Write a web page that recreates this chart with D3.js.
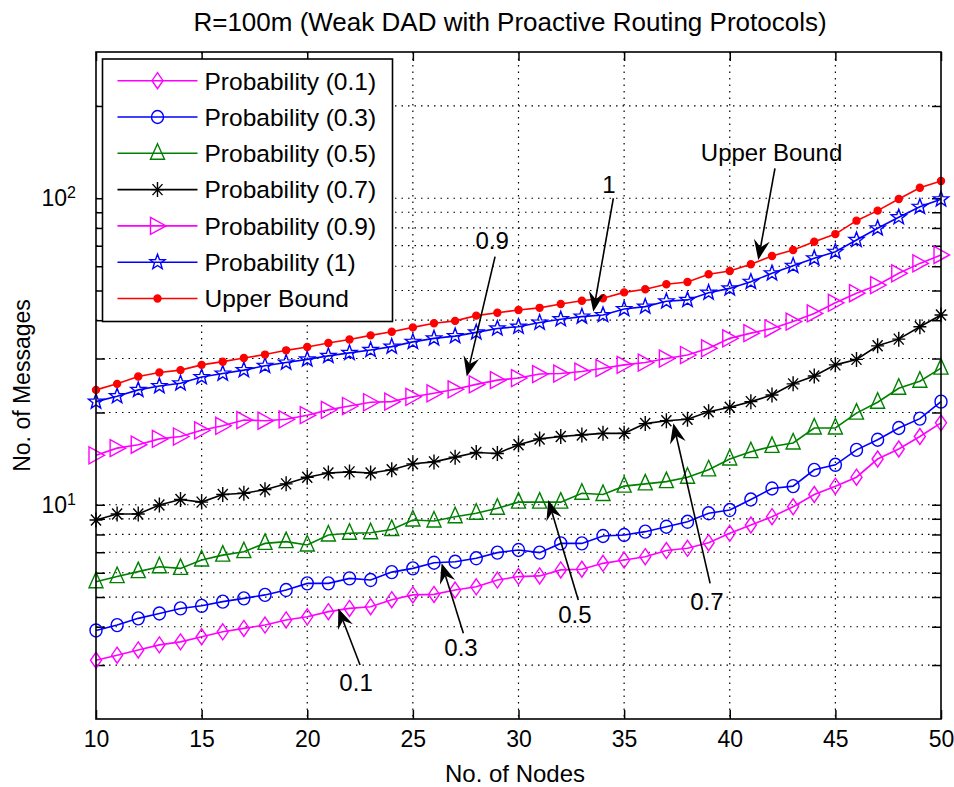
<!DOCTYPE html>
<html lang="en">
<head>
<meta charset="utf-8">
<title>R=100m (Weak DAD with Proactive Routing Protocols)</title>
<script src="https://cdn.jsdelivr.net/npm/d3@7"></script>
<style>
  body { margin: 0; background: #fff; }
  svg { display: block; font-family: "Liberation Sans", Arial, sans-serif; }
  .grid line { stroke: #000; stroke-width: 1.2; stroke-dasharray: 1.5,5; }
  .axis path { display: none; }
  .axis line { stroke: #000; stroke-width: 1.5; }
  .axis text { fill: #000; font-size: 23px; font-family: "Liberation Sans", Arial, sans-serif; }
</style>
</head>
<body>
<script>
var w = 954, h = 787;
var plot = {left: 96, right: 941, top: 52, bottom: 719};

// number of nodes on the x axis
var nodes = [10, 11, 12, 13, 14, 15, 16, 17, 18, 19, 20, 21, 22, 23, 24, 25, 26, 27, 28, 29, 30,
             31, 32, 33, 34, 35, 36, 37, 38, 39, 40, 41, 42, 43, 44, 45, 46, 47, 48, 49, 50];

// number of messages, one list per curve
var p01 = [3.11, 3.23, 3.36, 3.49, 3.57, 3.71, 3.85, 3.95, 4.05, 4.21, 4.31, 4.48, 4.59, 4.65, 4.90,
           5.08, 5.10, 5.27, 5.40, 5.68, 5.83, 5.86, 6.13, 6.16, 6.44, 6.60, 6.77, 7.09,
           7.21, 7.52, 8.07, 8.59, 9.14, 9.85, 10.8, 11.5, 12.3, 14.1, 15.2, 16.7, 18.5];
var p03 = [3.89, 4.05, 4.26, 4.42, 4.59, 4.68, 4.83, 4.95, 5.08, 5.27, 5.54, 5.54, 5.75, 5.68, 6.03,
           6.20, 6.47, 6.52, 6.69, 6.98, 7.12, 6.98, 7.48, 7.48, 7.91, 7.97, 8.17, 8.48,
           8.80, 9.38, 9.61, 10.4, 11.3, 11.5, 13.0, 13.5, 15.1, 16.3, 17.8, 19.1, 21.7];
var p05 = [5.61, 5.83, 6.05, 6.28, 6.20, 6.60, 6.85, 7.03, 7.48, 7.58, 7.39, 7.97, 8.07, 8.10, 8.30,
           8.92, 8.85, 9.14, 9.38, 9.74, 10.2, 10.2, 10.2, 10.9, 10.8, 11.5, 11.7, 11.9,
           12.3, 13.0, 14.1, 14.9, 15.5, 15.9, 17.8, 17.8, 19.9, 21.6, 24.0, 25.3, 27.9];
var p07 = [8.92, 9.33, 9.33, 9.98, 10.4, 10.2, 10.8, 10.9, 11.2, 11.7, 12.3, 12.7, 12.8, 12.7, 13.0,
           13.6, 13.8, 14.3, 14.8, 14.7, 15.7, 16.4, 16.7, 16.9, 17.1, 17.1, 18.4, 18.8,
           19.0, 20.1, 20.8, 21.7, 22.8, 24.8, 26.3, 28.6, 29.8, 33.0, 34.7, 38.1, 41.6];
var p09 = [14.5, 15.3, 15.7, 16.4, 16.7, 17.5, 18.1, 18.9, 18.8, 19.0, 19.6, 20.4, 21.0, 21.6, 21.7,
           22.5, 23.1, 23.8, 24.7, 25.5, 25.9, 26.7, 26.8, 27.2, 27.9, 28.6, 29.1, 30.0,
           30.8, 32.4, 34.9, 36.3, 37.6, 39.6, 42.1, 45.6, 49.0, 52.1, 56.9, 61.3, 65.3];
var p1 = [21.7, 22.6, 23.7, 24.4, 24.9, 26.1, 26.8, 27.5, 28.4, 29.1, 29.8, 30.6, 31.3, 32.0, 32.8,
          34.0, 34.9, 35.5, 36.5, 37.6, 38.1, 39.3, 40.3, 41.1, 41.6, 43.5, 44.3, 46.1,
          46.6, 49.2, 50.8, 53.4, 56.9, 60.2, 63.7, 66.9, 73.1, 79.8, 86.7, 93.8, 99.2];
var upper = [23.7, 24.8, 26.2, 27.0, 27.5, 28.6, 29.3, 30.1, 30.9, 31.9, 32.7, 33.7, 34.6, 35.7, 36.7,
             37.9, 39.1, 39.8, 41.4, 42.3, 43.2, 43.9, 45.2, 46.3, 47.2, 49.3, 50.5, 52.4,
             53.3, 56.5, 57.9, 60.9, 64.8, 67.8, 72.1, 76.4, 84.5, 91.1, 99.4, 108.2, 113.8];

var seriesNames = ["Probability (0.1)", "Probability (0.3)", "Probability (0.5)", "Probability (0.7)",
                   "Probability (0.9)", "Probability (1)", "Upper Bound"];
var seriesValues = [p01, p03, p05, p07, p09, p1, upper];
var seriesColors = ["#ff00ff", "#0000ff", "#008000", "#000000", "#ff00ff", "#0000ff", "#ff0000"];
var seriesMarkers = ["diamond", "circle", "triUp", "asterisk", "triRight", "star", "dot"];

var xTicks = [10, 15, 20, 25, 30, 35, 40, 45, 50];
var yMajor = [10, 100];
var yMinor = [3, 4, 5, 6, 7, 8, 9, 20, 30, 40, 50, 60, 70, 80, 90, 200];

// arrow labels: text position, arrow tail and arrow tip, in data units [nodes, messages]
var notes = [
  {label: "0.1", text: [22.31, 2.62], tail: [22.50, 3.00], tip: [21.47, 4.59]},
  {label: "0.3", text: [27.28, 3.41], tail: [27.39, 3.81], tip: [26.36, 6.44]},
  {label: "0.5", text: [32.67, 4.37], tail: [32.83, 4.89], tip: [31.41, 10.36]},
  {label: "0.7", text: [38.92, 4.82], tail: [39.07, 5.54], tip: [37.33, 18.44]},
  {label: "0.9", text: [28.75, 72.5], tail: [28.89, 64.5], tip: [27.55, 26.2]},
  {label: "1", text: [34.28, 110.4], tail: [34.49, 100], tip: [33.54, 42.6]},
  {label: "Upper Bound", text: [41.98, 141], tail: [42.14, 125.2], tip: [41.35, 62.9]}
];

var svg = d3.select("body").append("svg")
  .attr("width", w)
  .attr("height", h);

var x = d3.scaleLinear().domain([10, 50]).range([plot.left, plot.right]);
var y = d3.scaleLog().domain([2, 300]).range([plot.bottom, plot.top]);

//Grid
var grid = svg.append("g").attr("class", "grid");
grid.selectAll(".gx")
  .data(xTicks.slice(1, -1))
  .enter().append("line")
  .attr("x1", function(d) { return x(d); })
  .attr("x2", function(d) { return x(d); })
  .attr("y1", plot.top)
  .attr("y2", plot.bottom);
grid.selectAll(".gy")
  .data(yMinor.concat(yMajor))
  .enter().append("line")
  .attr("x1", plot.left)
  .attr("x2", plot.right)
  .attr("y1", function(d) { return y(d); })
  .attr("y2", function(d) { return y(d); });

//Axes with inward ticks
svg.append("g").attr("class", "axis")
  .attr("transform", "translate(0," + plot.bottom + ")")
  .call(d3.axisBottom(x).tickValues(xTicks).tickSize(-9).tickPadding(12).tickFormat(d3.format("d")));
svg.append("g").attr("class", "axis")
  .attr("transform", "translate(0," + plot.top + ")")
  .call(d3.axisTop(x).tickValues(xTicks).tickSize(-9).tickFormat(""));

var yLeft = svg.append("g").attr("class", "axis")
  .attr("transform", "translate(" + plot.left + ",0)")
  .call(d3.axisLeft(y).tickValues(yMinor.concat(yMajor)).tickSize(-9).tickPadding(20)
    .tickFormat(function(d) { return yMajor.indexOf(d) >= 0 ? "10" : ""; }));
yLeft.selectAll(".tick text")
  .filter(function(d) { return yMajor.indexOf(d) >= 0; })
  .append("tspan")
  .attr("dy", "-0.5em")
  .attr("font-size", "16px")
  .text(function(d) { return Math.round(Math.log10(d)); });

svg.append("g").attr("class", "axis")
  .attr("transform", "translate(" + plot.right + ",0)")
  .call(d3.axisRight(y).tickValues(yMinor.concat(yMajor)).tickSize(-9).tickFormat(""));

//Marker shapes
function starPath(ro, ri) {
  var pts = [];
  for (var i = 0; i < 10; i++) {
    var r = i % 2 ? ri : ro;
    var a = -Math.PI / 2 + i * Math.PI / 5;
    pts.push([r * Math.cos(a), r * Math.sin(a)]);
  }
  return "M" + pts.map(function(p) { return p[0].toFixed(2) + "," + p[1].toFixed(2); }).join("L") + "Z";
}
var markerPaths = {
  diamond: "M0,-8L5.5,0L0,8L-5.5,0Z",
  circle: "M6,0A6,6.5 0 1,1 -6,0A6,6.5 0 1,1 6,0Z",
  triUp: "M0,-9.5L7,6L-7,6Z",
  asterisk: "M0,-7.5V7.5M-6.5,0H6.5M-5,-5.5L5,5.5M-5,5.5L5,-5.5",
  triRight: "M-7,-8.5L8.5,0L-7,8.5Z",
  star: starPath(8, 3.3),
  dot: "M3.5,0A3.5,3.5 0 1,1 -3.5,0A3.5,3.5 0 1,1 3.5,0Z"
};

var line = d3.line()
  .x(function(d, i) { return x(nodes[i]); })
  .y(function(d) { return y(d); });

//Curves
seriesValues.forEach(function(vals, k) {
  var g = svg.append("g");
  g.append("path")
    .attr("d", line(vals))
    .attr("fill", "none")
    .attr("stroke", seriesColors[k])
    .attr("stroke-width", 1.6);
  g.selectAll("path.m")
    .data(vals)
    .enter().append("path")
    .attr("class", "m")
    .attr("transform", function(d, i) { return "translate(" + x(nodes[i]) + "," + y(d) + ")"; })
    .attr("d", markerPaths[seriesMarkers[k]])
    .attr("fill", seriesMarkers[k] === "dot" ? seriesColors[k] : "none")
    .attr("stroke", seriesColors[k])
    .attr("stroke-width", 1.4);
});

//Frame
svg.append("rect")
  .attr("x", plot.left)
  .attr("y", plot.top)
  .attr("width", plot.right - plot.left)
  .attr("height", plot.bottom - plot.top)
  .attr("fill", "none")
  .attr("stroke", "#000")
  .attr("stroke-width", 1.6);

//Arrow annotations
notes.forEach(function(n) {
  var x1 = x(n.tail[0]), y1 = y(n.tail[1]);
  var x2 = x(n.tip[0]), y2 = y(n.tip[1]);
  var dx = x2 - x1, dy = y2 - y1, len = Math.sqrt(dx * dx + dy * dy);
  var ux = dx / len, uy = dy / len, nx = -uy, ny = ux;
  var L = 20, W = 8, notch = 7;
  svg.append("line")
    .attr("x1", x1).attr("y1", y1)
    .attr("x2", x2 - (L - notch) * ux).attr("y2", y2 - (L - notch) * uy)
    .attr("stroke", "#000")
    .attr("stroke-width", 1.6);
  var head = [
    [x2, y2],
    [x2 - L * ux + W * nx, y2 - L * uy + W * ny],
    [x2 - (L - notch) * ux, y2 - (L - notch) * uy],
    [x2 - L * ux - W * nx, y2 - L * uy - W * ny]
  ];
  svg.append("path")
    .attr("d", "M" + head.join("L") + "Z")
    .attr("fill", "#000");
  svg.append("text")
    .attr("x", x(n.text[0]))
    .attr("y", y(n.text[1]))
    .attr("dy", "0.35em")
    .attr("text-anchor", "middle")
    .attr("font-size", "24px")
    .text(n.label);
});

//Legend
var legend = svg.append("g").attr("transform", "translate(102.5,59)");
legend.append("rect")
  .attr("width", 290)
  .attr("height", 262.5)
  .attr("fill", "#fff")
  .attr("stroke", "#000")
  .attr("stroke-width", 1.6);
var rows = legend.selectAll(".row")
  .data(seriesNames)
  .enter().append("g")
  .attr("transform", function(d, i) { return "translate(0," + (21.7 + i * 36.3) + ")"; });
rows.append("line")
  .attr("x1", 15).attr("x2", 95)
  .attr("stroke", function(d, i) { return seriesColors[i]; })
  .attr("stroke-width", 1.6);
rows.append("path")
  .attr("transform", "translate(55,0)")
  .attr("d", function(d, i) { return markerPaths[seriesMarkers[i]]; })
  .attr("fill", function(d, i) { return seriesMarkers[i] === "dot" ? seriesColors[i] : "none"; })
  .attr("stroke", function(d, i) { return seriesColors[i]; })
  .attr("stroke-width", 1.4);
rows.append("text")
  .attr("x", 102)
  .attr("dy", "0.36em")
  .attr("font-size", "24.5px")
  .text(function(d) { return d; });

//Title and axis labels
svg.append("text")
  .attr("x", 510)
  .attr("y", 31)
  .attr("text-anchor", "middle")
  .attr("font-size", "26px")
  .text("R=100m (Weak DAD with Proactive Routing Protocols)");
svg.append("text")
  .attr("x", 515)
  .attr("y", 782)
  .attr("text-anchor", "middle")
  .attr("font-size", "24px")
  .text("No. of Nodes");
svg.append("text")
  .attr("transform", "translate(30," + ((plot.top + plot.bottom) / 2) + ") rotate(-90)")
  .attr("text-anchor", "middle")
  .attr("font-size", "23px")
  .text("No. of Messages");
</script>
</body>
</html>
